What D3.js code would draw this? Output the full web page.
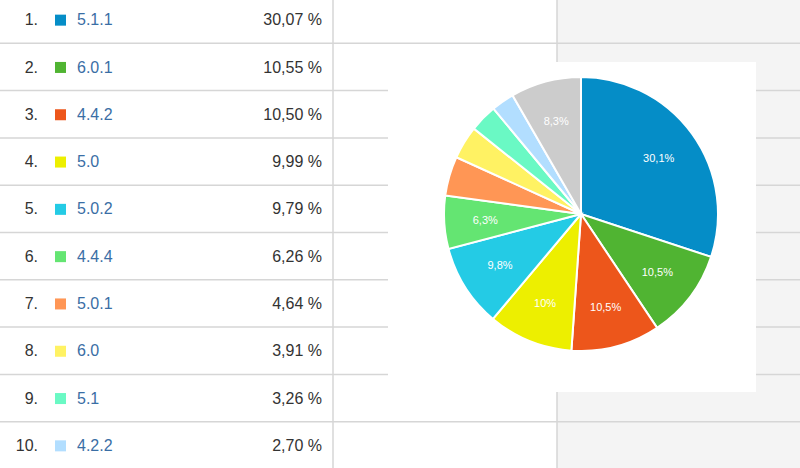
<!DOCTYPE html>
<html><head><meta charset="utf-8">
<script src="https://cdn.jsdelivr.net/npm/d3@7"></script>
<style>body{margin:0;background:#fff}svg{display:block;font-family:"Liberation Sans",Arial,sans-serif}</style>
</head><body><svg id="chart" width="800" height="468"></svg>
<script>
const versions = ["5.1.1", "6.0.1", "4.4.2", "5.0", "5.0.2", "4.4.4", "5.0.1", "6.0", "5.1", "4.2.2"];
const shares = [30.07, 10.55, 10.50, 9.99, 9.79, 6.26, 4.64, 3.91, 3.26, 2.70];
const otherShare = 8.33;
const colors = ["#058dc7", "#50b432", "#ed561b", "#edef00", "#24cbe5", "#64e572", "#ff9655", "#fff263", "#6af9c4", "#b2deff", "#cccccc"];
const pieLabels = ["30,1%", "10,5%", "10,5%", "10%", "9,8%", "6,3%", "", "", "", "", "8,3%"];

const svg = d3.select("#chart");
const rowH = 47.3;
const y = d3.scaleBand().domain(d3.range(versions.length)).range([-4, -4 + rowH * versions.length]);

// grey right area
svg.append("rect").attr("x", 557).attr("y", 0).attr("width", 243).attr("height", 468).attr("fill", "#f4f4f4");

// row separators
svg.selectAll("line.row").data(d3.range(1, versions.length)).enter().append("line")
    .attr("x1", 0).attr("x2", 800)
    .attr("y1", d => y(d)).attr("y2", d => y(d))
    .attr("stroke", "#d6d6d6").attr("stroke-width", 1.5);
[333, 557].forEach(x => svg.append("line").attr("x1", x).attr("x2", x).attr("y1", 0).attr("y2", 468)
    .attr("stroke", "#d6d6d6").attr("stroke-width", 1.5));

const rows = svg.selectAll("g.row").data(versions).enter().append("g")
    .attr("transform", (d, i) => `translate(0,${y(i) + y.bandwidth() / 2})`);
rows.append("text").attr("x", 38).attr("dy", "0.35em").attr("text-anchor", "end")
    .attr("font-size", 16).attr("fill", "#333").text((d, i) => (i + 1) + ".");
rows.append("rect").attr("x", 55).attr("y", -5).attr("width", 11).attr("height", 11)
    .attr("fill", (d, i) => colors[i]);
rows.append("text").attr("x", 77).attr("dy", "0.35em").attr("font-size", 16).attr("fill", "#3a6ea5").text(d => d);
rows.append("text").attr("x", 322).attr("dy", "0.35em").attr("text-anchor", "end")
    .attr("font-size", 16).attr("fill", "#333")
    .text((d, i) => shares[i].toFixed(2).replace(".", ",") + " %");

// pie panel
svg.append("rect").attr("x", 388).attr("y", 62).attr("width", 368).attr("height", 330).attr("fill", "#fff");

const values = shares.concat([otherShare]);
const pie = d3.pie().sort(null)(values);
const r = 137;
const arc = d3.arc().innerRadius(0).outerRadius(r);
const labelArc = d3.arc().innerRadius(r * 0.7).outerRadius(r * 0.7);
const g = svg.append("g").attr("transform", "translate(581,214)");
g.selectAll("path").data(pie).enter().append("path")
    .attr("d", arc).attr("fill", (d, i) => colors[i])
    .attr("stroke", "#fff").attr("stroke-width", 2);
g.selectAll("text").data(pie).enter().append("text")
    .attr("transform", d => `translate(${labelArc.centroid(d)})`)
    .attr("text-anchor", "middle").attr("dy", "0.35em")
    .attr("font-size", 11).attr("fill", "#fff")
    .text((d, i) => pieLabels[i]);
</script></body></html>
